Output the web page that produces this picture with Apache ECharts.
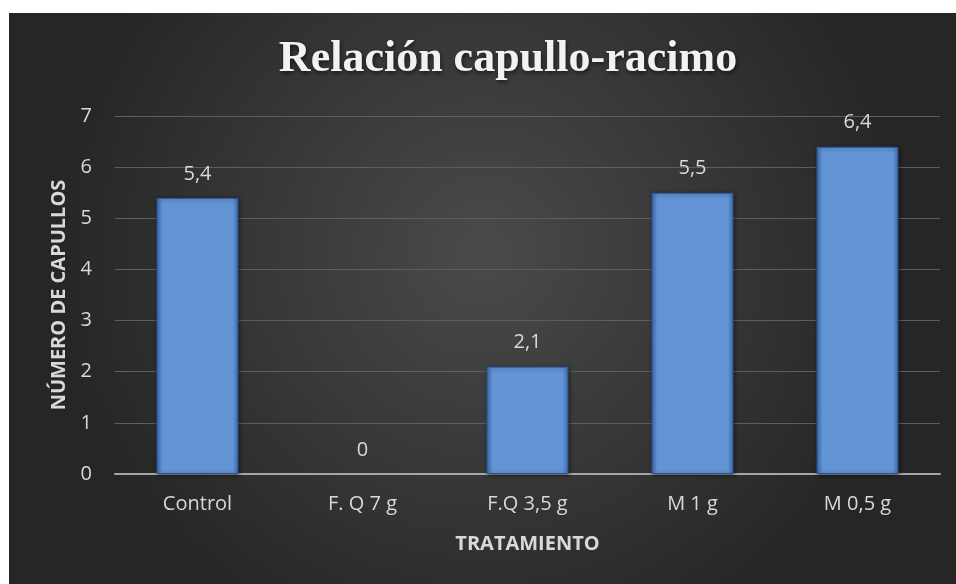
<!DOCTYPE html>
<html lang="es">
<head>
    <meta charset="UTF-8">
    <title>Relación capullo-racimo</title>
    <script src="https://cdn.jsdelivr.net/npm/echarts@6/dist/echarts.min.js"></script>
    <style>
        body { margin: 0; background: #ffffff; }
        #chart { position: absolute; left: 9px; top: 13px; width: 947px; height: 571px; }
    </style>
</head>
<body>
<div id="chart"></div>
<script type="text/javascript">
    let categories = ['Control', 'F. Q 7 g', 'F.Q 3,5 g', 'M 1 g', 'M 0,5 g'];
    let capullos = [5.4, 0, 2.1, 5.5, 6.4];
    let yTicks = [0, 1, 2, 3, 4, 5, 6, 7];

    let myChart = echarts.init(document.getElementById('chart'));

    let barFill = new echarts.graphic.LinearGradient(0, 0, 1, 0, [
        { offset: 0, color: '#3f6fb6' },
        { offset: 0.07, color: '#6394d6' },
        { offset: 0.93, color: '#6394d6' },
        { offset: 1, color: '#3f6fb6' }
    ]);

    // zero bars get no outline, so nothing is drawn for them
    let barData = capullos.map(function (v) {
        if (v === 0) {
            return { value: v, itemStyle: { borderWidth: 0, shadowBlur: 0, shadowOffsetX: 0, shadowOffsetY: 0 } };
        }
        return v;
    });

    let option = {
        backgroundColor: {
            type: 'radial', x: 0.5, y: 0.42, r: 0.75,
            colorStops: [
                { offset: 0, color: '#4a4a4a' },
                { offset: 1, color: '#262626' }
            ]
        },
        title: {
            text: 'Relación capullo-racimo',
            left: 494,
            top: 20,
            textAlign: 'center',
            textStyle: {
                fontFamily: 'Liberation Serif',
                fontWeight: 'bold',
                fontSize: 44,
                color: '#f2f2f2',
                textShadowColor: 'rgba(0,0,0,0.6)',
                textShadowBlur: 4,
                textShadowOffsetX: 1,
                textShadowOffsetY: 2
            }
        },
        grid: { left: 106, right: 16, top: 103, bottom: 110 },
        xAxis: {
            type: 'category',
            data: categories,
            name: 'TRATAMIENTO',
            nameLocation: 'middle',
            nameGap: 60,
            nameTextStyle: { color: '#d9d9d9', fontSize: 20, fontWeight: 'bold', fontFamily: 'Open Sans' },
            axisLine: { lineStyle: { color: '#a6a6a6', width: 2 } },
            axisTick: { show: false },
            axisLabel: { color: '#d9d9d9', fontSize: 20, margin: 20, fontFamily: 'Open Sans' }
        },
        yAxis: {
            type: 'value',
            min: yTicks[0],
            max: yTicks[yTicks.length - 1],
            interval: 1,
            name: 'NÚMERO DE CAPULLOS',
            nameLocation: 'middle',
            nameRotate: 90,
            nameGap: 45,
            nameTextStyle: { color: '#d9d9d9', fontSize: 20, fontWeight: 'bold', fontFamily: 'Open Sans' },
            axisLine: { show: false },
            axisTick: { show: false },
            axisLabel: { color: '#d9d9d9', fontSize: 20, margin: 23, fontFamily: 'Open Sans' },
            splitLine: { lineStyle: { color: '#5e5e5e', width: 1 } }
        },
        series: [{
            type: 'bar',
            data: barData,
            barWidth: 82,
            itemStyle: {
                color: barFill,
                borderColor: '#2c528c',
                borderWidth: 1,
                shadowColor: 'rgba(0,0,0,0.5)',
                shadowBlur: 4,
                shadowOffsetX: 1,
                shadowOffsetY: 1
            },
            label: {
                show: true,
                position: 'top',
                distance: 14,
                color: '#d9d9d9',
                fontSize: 20,
                fontFamily: 'Open Sans',
                formatter: function (p) { return String(p.value).replace('.', ','); }
            }
        }]
    };

    myChart.setOption(option);
</script>
</body>
</html>
